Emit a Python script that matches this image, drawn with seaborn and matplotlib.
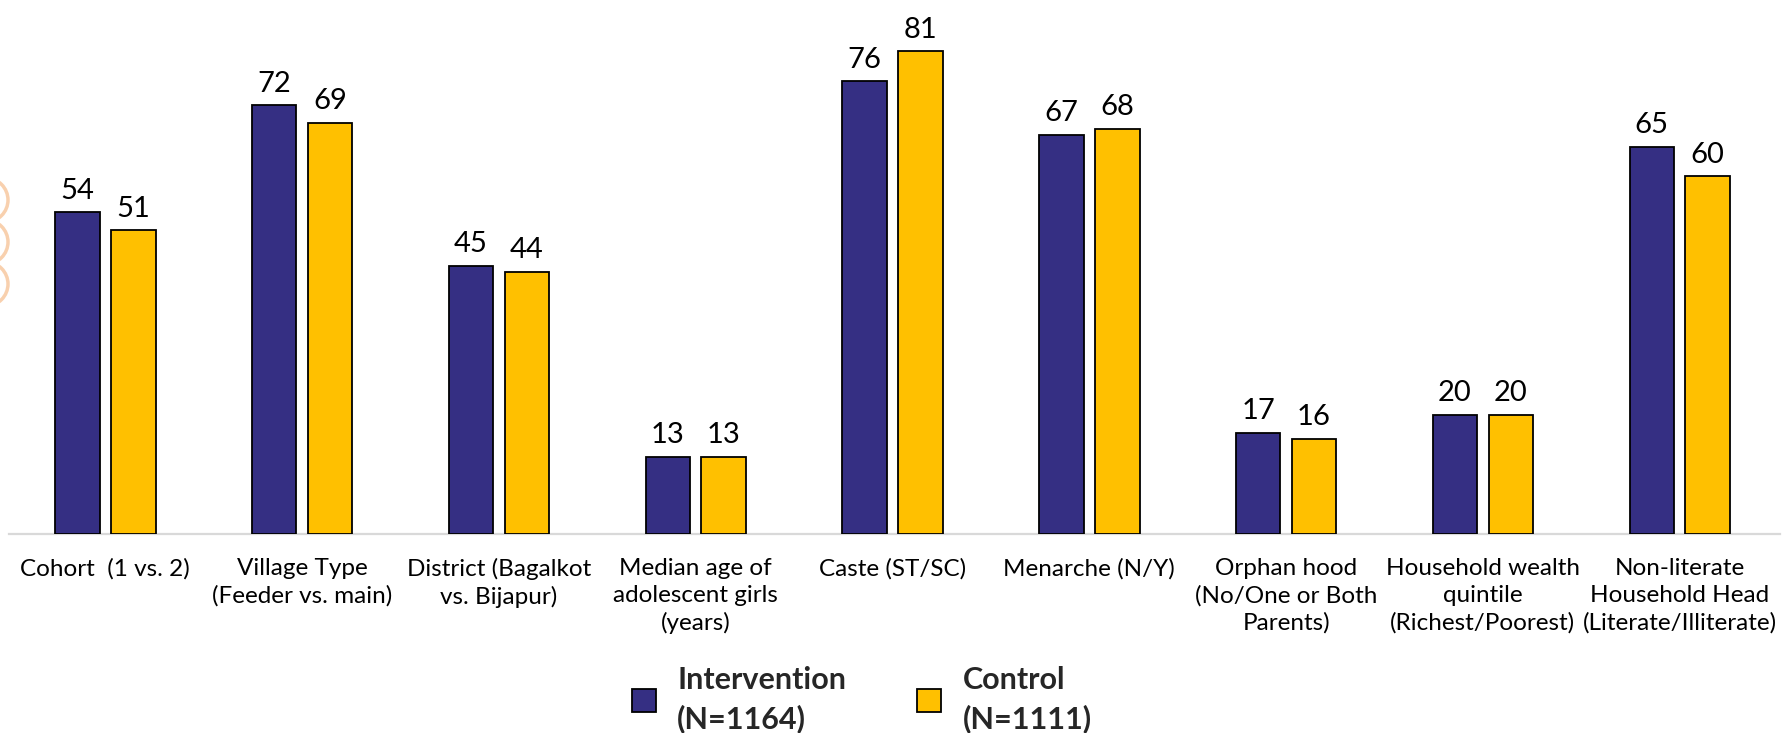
import matplotlib
matplotlib.use("Agg")
import matplotlib.pyplot as plt
from matplotlib.patches import Circle
import seaborn as sns
import pandas as pd

categories = [
    "Cohort  (1 vs. 2)",
    "Village Type\n(Feeder vs. main)",
    "District (Bagalkot\nvs. Bijapur)",
    "Median age of\nadolescent girls\n(years)",
    "Caste (ST/SC)",
    "Menarche (N/Y)",
    "Orphan hood\n(No/One or Both\nParents)",
    "Household wealth\nquintile\n(Richest/Poorest)",
    "Non-literate\nHousehold Head\n(Literate/Illiterate)",
]
intervention = [54, 72, 45, 13, 76, 67, 17, 20, 65]
control = [51, 69, 44, 13, 81, 68, 16, 20, 60]
series_names = ["Intervention\n(N=1164)", "Control\n(N=1111)"]
colors = ["#352F83", "#FFC000"]

df = pd.DataFrame({
    "category": categories * 2,
    "group": [series_names[0]] * len(categories) + [series_names[1]] * len(categories),
    "value": intervention + control,
})

sns.set_theme(style="white")
font = ["Lato", "DejaVu Sans"]
plt.rcParams["font.family"] = font

fig = plt.figure(figsize=(17.89, 7.33), dpi=100)
ax = fig.add_axes([0.005, 0.2715, 0.99, 0.7285])

sns.barplot(
    data=df, x="category", y="value", hue="group",
    order=categories, hue_order=series_names, palette=colors, saturation=1,
    width=0.568, gap=0.204, edgecolor="black", linewidth=1.3,
    errorbar=None, legend=True, ax=ax, zorder=3,
)

for container in ax.containers:
    ax.bar_label(container, fmt="%d", padding=6, fontsize=21, color="black")

ax.set_xlim(-0.49, 8.51)
ax.set_ylim(0, 89.6)
ax.set_xlabel("")
ax.set_ylabel("")
ax.set_yticks([])
ax.tick_params(axis="x", length=0, pad=17, labelsize=17.5, colors="black")
for lbl in ax.get_xticklabels():
    lbl.set_linespacing(1.35)
for side in ["top", "right", "left"]:
    ax.spines[side].set_visible(False)
ax.spines["bottom"].set_color("#D9D9D9")
ax.spines["bottom"].set_linewidth(1.6)

handles, labels = ax.get_legend_handles_labels()
ax.legend(
    handles, labels, loc="upper left", bbox_to_anchor=(0.336, -0.195),
    ncol=2, frameon=False, handlelength=0.8, handleheight=0.8,
    handletextpad=0.7, columnspacing=2.3,
    prop={"family": font, "weight": "bold", "size": 22},
)
leg = ax.get_legend()
for t in leg.get_texts():
    t.set_linespacing(1.45)
for h in leg.legend_handles:
    h.set_edgecolor("black")
    h.set_linewidth(1.3)

# decorative rings on the left margin
for cy in [200, 242, 284]:
    fig.patches.append(Circle((-14, 733 - cy), 22, transform=None, fill=False,
                              edgecolor="#F7C59A", linewidth=2.5, alpha=0.8))

fig.savefig("out.png", dpi=100)
